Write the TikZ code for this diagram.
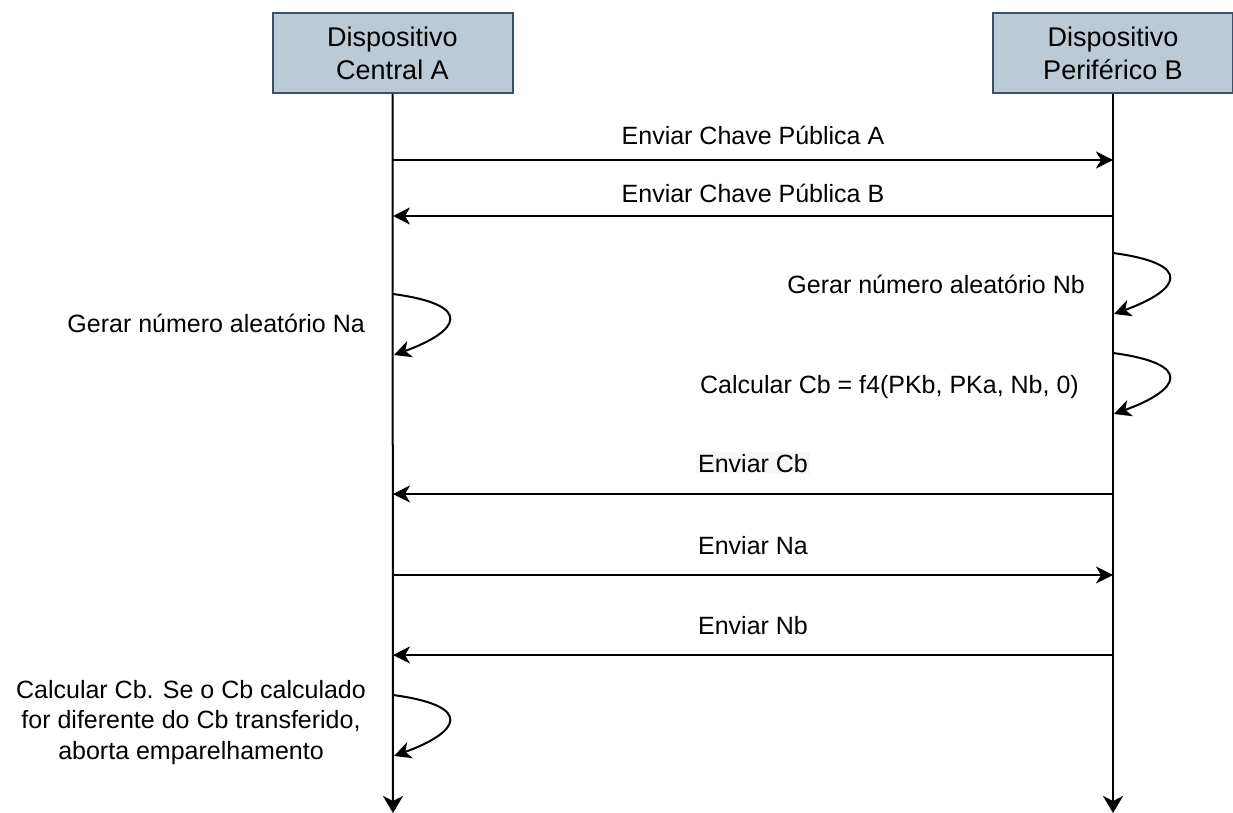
\documentclass[tikz,border=0pt]{standalone}
\usepackage{fontspec}
\setmainfont{Liberation Sans}
\usetikzlibrary{arrows.meta}
\definecolor{boxfill}{HTML}{BACAD6}
\definecolor{boxline}{HTML}{3A5068}
\definecolor{lblbg}{HTML}{F7F7F7}
\begin{document}
\begin{tikzpicture}[x=1pt,y=-1pt,
  actor/.style={draw=boxline,fill=boxfill,line width=2pt,minimum width=240pt,minimum height=80pt,
    align=center,font=\fontsize{27}{33}\selectfont,inner sep=0pt},
  life/.style={line width=2pt,-{Stealth[length=17pt,width=20pt,inset=5pt]}},
  msg/.style={line width=2pt,-{Stealth[length=17pt,width=17pt,inset=5pt]}},
  lbl/.style={font=\fontsize{25}{30}\selectfont,inner sep=0pt},
  note/.style={font=\fontsize{25}{30.5}\selectfont,inner sep=0pt,align=center}]
\useasboundingbox (0,0) rectangle (1233,813);

% participants
\node[actor] (A) at (392.5,53) {Dispositivo\\Central A};
\node[actor] (B) at (1113,53) {Dispositivo\\Periférico B};

% lifeline ends
\coordinate (Aend) at (393,813);
\coordinate (Bend) at (1113,813);
\draw[life] (A.south) -- (Aend);
\draw[life] (B.south) -- (Bend);

% message anchors on the lifelines
\foreach \n/\y in {1/160,2/216,6/494,7/575,8/655}{
  \coordinate (a\n) at (393,\y);
  \coordinate (b\n) at (1113,\y);
}

% messages
\draw[msg] (a1) -- node[lbl,anchor=base,yshift=15pt] {Enviar Chave Pública A} (b1);
\draw[msg] (b2) -- node[lbl,anchor=base,yshift=13pt] {Enviar Chave Pública B} (a2);
\draw[msg] (b6) -- node[lbl,anchor=base,yshift=22pt,fill=lblbg,inner sep=2pt] {Enviar Cb} (a6);
\draw[msg] (a7) -- node[lbl,anchor=base,yshift=21pt] {Enviar Na} (b7);
\draw[msg] (b8) -- node[lbl,anchor=base,yshift=21pt] {Enviar Nb} (a8);

% self calls
\coordinate (s1) at (1113,253); \coordinate (e1) at (1114,314);
\coordinate (s2) at (393,294);  \coordinate (e2) at (394,355);
\coordinate (s3) at (1113,353); \coordinate (e3) at (1114,414);
\coordinate (s4) at (393,695);  \coordinate (e4) at (394,756);

\draw[msg] (s1) .. controls (1195,264) and (1180,290) .. (e1);
\draw[msg] (s2) .. controls (475,305) and (460,331) .. (e2);
\draw[msg] (s3) .. controls (1195,364) and (1180,390) .. (e3);
\draw[msg] (s4) .. controls (475,706) and (460,732) .. (e4);

\node[lbl,anchor=base east] (n1) at (1085,293) {Gerar número aleatório Nb};
\node[lbl,anchor=base east] (n2) at (365,332) {Gerar número aleatório Na};
\node[lbl,anchor=base east] (n3) at (1079,393) {Calcular Cb = f4(PKb, PKa, Nb, 0)};
\node[note,anchor=north] (n4) at (191,680) {Calcular Cb. Se o Cb calculado\\for diferente do Cb transferido,\\aborta emparelhamento};
\end{tikzpicture}
\end{document}
